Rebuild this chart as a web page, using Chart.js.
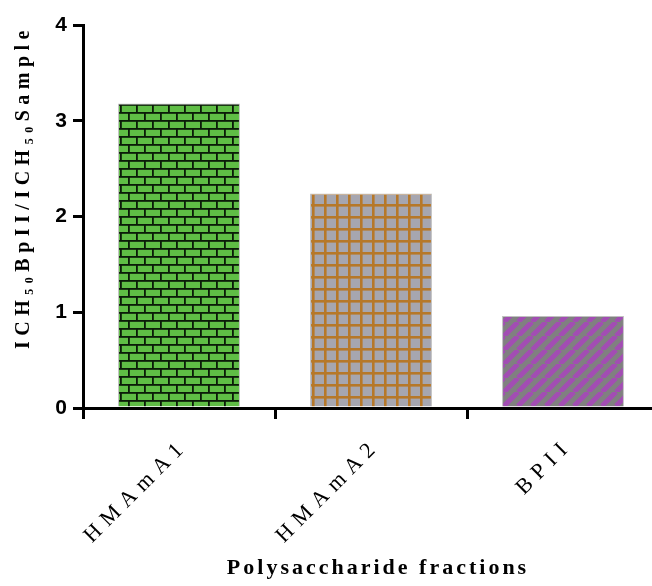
<!DOCTYPE html>
<html>
<head>
<meta charset="utf-8">
<script src="https://cdn.jsdelivr.net/npm/chart.js@4.4.1/dist/chart.umd.min.js"></script>
<style>
  html, body { margin: 0; padding: 0; background: #fff; overflow: hidden; }
  #wrap { width: 668px; height: 586px; }
</style>
</head>
<body>
<div id="wrap"><canvas id="ratioChart" width="668" height="586"></canvas></div>
<script>
// ============================================
// DATA
// ============================================

const categories = ["HMAmA1", "HMAmA2", "BPII"];

const ratioValues = [3.18, 2.24, 0.96];

const yTickValues = [0, 1, 2, 3, 4];

const yTitle = "ICH\u2085\u2080BpII/ICH\u2085\u2080Sample";
const xTitle = "Polysaccharide fractions";


// ============================================
// FILL PATTERNS
// ============================================

function brickPattern() {
    const c = document.createElement("canvas");
    c.width = 16;
    c.height = 16;
    const g = c.getContext("2d");
    g.fillStyle = "#5fbd45";
    g.fillRect(0, 0, 16, 16);
    g.fillStyle = "#0b1a08";
    g.fillRect(0, 0, 16, 1.8);
    g.fillRect(0, 8, 16, 1.8);
    g.fillRect(0, 0, 1.8, 8);
    g.fillRect(8, 8, 1.8, 8);
    return g.createPattern(c, "repeat");
}

function gridPattern() {
    const c = document.createElement("canvas");
    c.width = 12;
    c.height = 12;
    const g = c.getContext("2d");
    g.fillStyle = "#a6a6b0";
    g.fillRect(0, 0, 12, 12);
    g.fillStyle = "#b6782a";
    g.fillRect(0, 0, 12, 2.6);
    g.fillRect(0, 0, 2.6, 12);
    return g.createPattern(c, "repeat");
}

function stripePattern() {
    const c = document.createElement("canvas");
    c.width = 14;
    c.height = 14;
    const g = c.getContext("2d");
    g.fillStyle = "#808080";
    g.fillRect(0, 0, 14, 14);
    g.strokeStyle = "#a24db3";
    g.lineWidth = 5;
    g.beginPath();
    for (let k = -14; k <= 28; k += 14) {
        g.moveTo(k - 14, 14);
        g.lineTo(k, 0);
    }
    g.stroke();
    return g.createPattern(c, "repeat");
}


// ============================================
// LETTER SPACING per text part
// (dx/dy nudge the text to undo the trailing gap)
// ============================================

function spaced(fn, px, dx, dy) {
    return function (...args) {
        const ctx = this.ctx;
        const old = ctx.letterSpacing;
        ctx.save();
        ctx.translate(dx, dy);
        ctx.letterSpacing = px;
        fn.apply(this, args);
        ctx.restore();
        ctx.letterSpacing = old;
    };
}

const spacingPlugin = {
    id: "spacing",
    beforeLayout(chart) { chart.ctx.letterSpacing = "7px"; },
    beforeDraw(chart) {
        chart.ctx.letterSpacing = "0px";
        if (chart._spacedDone) return;
        const x = chart.scales.x;
        const y = chart.scales.y;
        x.drawLabels = spaced(x.drawLabels, "7px", 6, 4);
        x.drawTitle = spaced(x.drawTitle, "3px", 7, 2);
        y.drawTitle = spaced(y.drawTitle, "5.5px", -2, 0);
        chart._spacedDone = true;
    }
};


// ============================================
// BAR CHART
// ============================================

const ratioChart = new Chart(
    document.getElementById("ratioChart"),
    {
        type: "bar",

        data: {
            labels: categories,
            datasets: [{
                data: ratioValues,
                backgroundColor: [brickPattern(), gridPattern(), stripePattern()],
                borderColor: "rgba(150,150,150,0.6)",
                borderWidth: 1,
                barPercentage: 0.635,
                categoryPercentage: 1
            }]
        },

        options: {
            responsive: false,
            animation: false,
            layout: {
                padding: { top: 25, left: 0, right: 9, bottom: 0 }
            },
            plugins: {
                legend: { display: false },
                tooltip: { enabled: false }
            },
            scales: {
                x: {
                    afterFit(scale) { scale.height = 178; },
                    grid: {
                        display: true,
                        drawOnChartArea: false,
                        drawTicks: true,
                        tickLength: 11,
                        color: "#000",
                        lineWidth: 3
                    },
                    border: { color: "#000", width: 3 },
                    ticks: {
                        color: "#000",
                        minRotation: 45,
                        maxRotation: 45,
                        padding: 10,
                        font: { family: "Liberation Serif", size: 22 }
                    },
                    title: {
                        display: true,
                        text: xTitle,
                        color: "#000",
                        padding: { top: 0, bottom: 6 },
                        font: { family: "Liberation Serif", size: 22, weight: "bold" }
                    }
                },
                y: {
                    min: 0,
                    max: 4,
                    afterFit(scale) { scale.width = 83; },
                    afterBuildTicks(scale) {
                        scale.ticks = yTickValues.map(v => ({ value: v }));
                    },
                    grid: {
                        display: true,
                        drawOnChartArea: false,
                        drawTicks: true,
                        tickLength: 10,
                        color: "#000",
                        lineWidth: 3
                    },
                    border: { color: "#000", width: 3 },
                    ticks: {
                        color: "#000",
                        padding: 6,
                        font: { family: "Liberation Sans", size: 21, weight: "bold" }
                    },
                    title: {
                        display: true,
                        text: yTitle,
                        color: "#000",
                        align: "end",
                        padding: { top: 14, bottom: 0 },
                        font: { family: "Liberation Serif", size: 20, weight: "bold" }
                    }
                }
            }
        },

        plugins: [spacingPlugin]
    }
);
</script>
</body>
</html>
